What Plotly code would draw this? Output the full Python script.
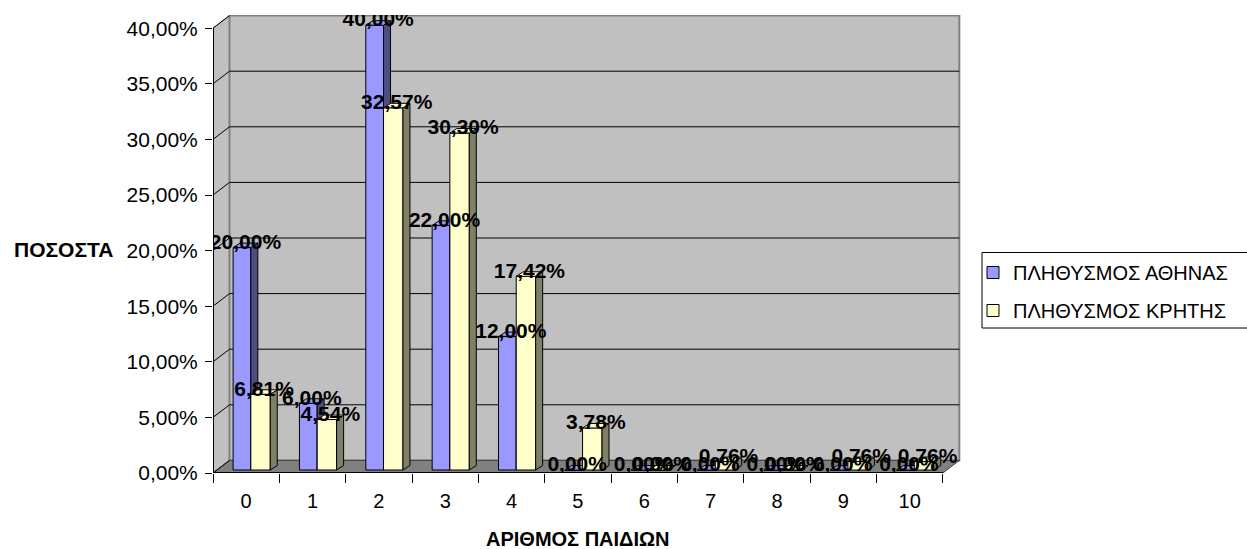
import plotly.graph_objects as go

# ---- data -------------------------------------------------------------
CATEGORIES = [0, 1, 2, 3, 4, 5, 6, 7, 8, 9, 10]
CAT_LABELS = ["0", "1", "2", "3", "4", "5", "6", "7", "8", "9", "10"]
ATHENS = [20.00, 6.00, 40.00, 22.00, 12.00, 0.00, 0.00, 0.00, 0.00, 0.00, 0.00]
CRETE = [6.81, 4.54, 32.57, 30.30, 17.42, 3.78, 0.00, 0.76, 0.00, 0.76, 0.76]
SERIES_NAMES = ["ΠΛΗΘΥΣΜΟΣ ΑΘΗΝΑΣ", "ΠΛΗΘΥΣΜΟΣ ΚΡΗΤΗΣ"]
Y_TICKS = [0, 5, 10, 15, 20, 25, 30, 35, 40]
Y_TICK_LABELS = ["0,00%", "5,00%", "10,00%", "15,00%", "20,00%",
                 "25,00%", "30,00%", "35,00%", "40,00%"]
X_TITLE = "ΑΡΙΘΜΟΣ ΠΑΙΔΙΩΝ"
Y_TITLE = "ΠΟΣΟΣΤΑ"

# ---- geometry -----------------------------------------------------------
W, H = 1247, 549
ML, MR, MT, MB = 213, 286, 15, 76
PLOT_W = W - ML - MR
PLOT_H = H - MT - MB
PX_CAT = 66.35      # pixels per category
PX_PCT = 11.12      # pixels per percent
X_RANGE = [-0.5, -0.5 + PLOT_W / PX_CAT]
Y_RANGE = [0, PLOT_H / PX_PCT]

WALL_DX = 16.5 / PX_CAT     # depth of the chart box
WALL_DY = 12.6 / PX_PCT
BAR_DX = 7.0 / PX_CAT       # depth of each column
BAR_DY = 4.5 / PX_PCT
BASE = 3.0 / PX_PCT         # columns stand a little back on the floor
LBL_DX = 3.5 / PX_CAT
LBL_DY = 4.0 / PX_PCT

FONT = "Liberation Sans, Arial, sans-serif"
COLORS = [("#9999FF", "#4D4D80"), ("#FFFFCC", "#808066")]
SLOTS = [(-0.197, 0.267), (0.070, 0.293)]   # (offset, width) per series


def px_x(px):
    return (px - ML) / PLOT_W


def px_y(py):
    return (H - MB - py) / PLOT_H


def fmt(v):
    return f"{v:.2f}".replace(".", ",") + "%"


fig = go.Figure()

label_traces = []
for i, (name, vals) in enumerate(zip(SERIES_NAMES, [ATHENS, CRETE])):
    front, side = COLORS[i]
    off, wid = SLOTS[i]
    xa = "x" if i == 0 else "x2"
    ya = "y" if i == 0 else "y2"

    fig.add_trace(go.Bar(
        x=CATEGORIES, y=vals, base=BASE, offset=off, width=wid,
        name=name, legendgroup=name,
        marker=dict(color=front, line=dict(color="black", width=1)),
        xaxis=xa, yaxis=ya, hoverinfo="skip",
    ))

    sx, sy, tx, ty = [], [], [], []
    for c, v in zip(CATEGORIES, vals):
        x0 = c + off
        x1 = x0 + wid
        top = BASE + v
        sx += [x1, x1 + BAR_DX, x1 + BAR_DX, x1, x1, None]
        sy += [BASE, BASE + BAR_DY, top + BAR_DY, top, BASE, None]
        tx += [x0, x0 + BAR_DX, x1 + BAR_DX, x1, x0, None]
        ty += [top, top + BAR_DY, top + BAR_DY, top, top, None]

    fig.add_trace(go.Scatter(
        x=sx, y=sy, mode="lines", fill="toself", fillcolor=side,
        line=dict(color="black", width=1), showlegend=False,
        legendgroup=name, xaxis=xa, yaxis=ya, hoverinfo="skip",
    ))
    fig.add_trace(go.Scatter(
        x=tx, y=ty, mode="lines", fill="toself", fillcolor=front,
        line=dict(color="black", width=1), showlegend=False,
        legendgroup=name, xaxis=xa, yaxis=ya, hoverinfo="skip",
    ))

    label_traces.append(go.Scatter(
        x=[c + off + wid / 2 + LBL_DX for c in CATEGORIES],
        y=[BASE + v + LBL_DY for v in vals],
        text=[fmt(v) for v in vals],
        mode="text", textposition="middle center",
        textfont=dict(family=FONT, size=21, color="black", weight="bold"),
        showlegend=False, legendgroup=name, xaxis="x2", yaxis="y2",
        hoverinfo="skip",
    ))

for t in label_traces:
    fig.add_trace(t)

# ---- chart box: walls, floor, grid -----------------------------------
WALL_GREY = "#C0C0C0"
EDGE_GREY = "#808080"
xl = X_RANGE[0]
xr = CATEGORIES[-1] + 0.5
y_top = Y_TICKS[-1]

shapes = [
    # left side wall
    dict(type="path", xref="x", yref="y", layer="below",
         path=f"M {xl},0 L {xl + WALL_DX},{WALL_DY} L {xl + WALL_DX},{y_top + WALL_DY} L {xl},{y_top} Z",
         fillcolor=WALL_GREY, line=dict(color=EDGE_GREY, width=1)),
    # back wall
    dict(type="rect", xref="x", yref="y", layer="below",
         x0=xl + WALL_DX, x1=xr + WALL_DX, y0=WALL_DY, y1=y_top + WALL_DY,
         fillcolor=WALL_GREY, line=dict(color=EDGE_GREY, width=2)),
    # floor
    dict(type="path", xref="x", yref="y", layer="below",
         path=f"M {xl},0 L {xl + WALL_DX},{WALL_DY} L {xr + WALL_DX},{WALL_DY} L {xr},0 Z",
         fillcolor=EDGE_GREY, line=dict(color="#404040", width=1)),
]
for v in Y_TICKS:
    shapes.append(dict(type="line", xref="x", yref="y", layer="below",
                       x0=xl, y0=v, x1=xl + WALL_DX, y1=v + WALL_DY,
                       line=dict(color="black", width=1)))
    if 0 < v < y_top:
        shapes.append(dict(type="line", xref="x", yref="y", layer="below",
                           x0=xl + WALL_DX, y0=v + WALL_DY, x1=xr + WALL_DX, y1=v + WALL_DY,
                           line=dict(color="black", width=1)))
# front axis lines
shapes.append(dict(type="line", xref="x", yref="y", layer="above",
                   x0=xl, y0=0, x1=xl, y1=y_top, line=dict(color="black", width=2)))
shapes.append(dict(type="line", xref="x", yref="y", layer="above",
                   x0=xl, y0=0, x1=xr, y1=0, line=dict(color="black", width=2)))
# legend frame
shapes.append(dict(type="rect", xref="paper", yref="paper", layer="below",
                   x0=px_x(982), x1=px_x(1262), y0=px_y(328), y1=px_y(252.5),
                   fillcolor="white", line=dict(color="black", width=1)))

fig.update_layout(
    width=W, height=H,
    margin=dict(l=ML, r=MR, t=MT, b=MB, autoexpand=False),
    paper_bgcolor="white", plot_bgcolor="white",
    barmode="overlay",
    showlegend=True,
    shapes=shapes,
    font=dict(family=FONT, color="black"),
    xaxis=dict(
        range=X_RANGE, showgrid=False, zeroline=False, showline=False,
        tickmode="array", tickvals=CATEGORIES, ticktext=CAT_LABELS,
        ticks="", tickfont=dict(family=FONT, size=20, color="black"),
        ticklabelstandoff=14,
        minor=dict(tickmode="array",
                   tickvals=[c - 0.5 for c in CATEGORIES] + [CATEGORIES[-1] + 0.5],
                   ticks="outside", ticklen=9, tickcolor="black", tickwidth=1,
                   showgrid=False),
    ),
    yaxis=dict(
        range=Y_RANGE, showgrid=False, zeroline=False, showline=False,
        tickmode="array", tickvals=Y_TICKS, ticktext=Y_TICK_LABELS,
        ticks="outside", ticklen=7, tickcolor="black", tickwidth=1,
        tickfont=dict(family=FONT, size=21, color="black"),
        ticklabelstandoff=3,
    ),
    xaxis2=dict(overlaying="x", matches="x", range=X_RANGE, visible=False),
    yaxis2=dict(overlaying="y", matches="y", range=Y_RANGE, visible=False),
    legend=dict(
        x=px_x(973), y=px_y(253), xanchor="left", yanchor="top",
        bgcolor="rgba(0,0,0,0)", borderwidth=0,
        font=dict(family=FONT, size=20, color="black"),
        traceorder="grouped", tracegroupgap=9,
    ),
    annotations=[
        dict(text=f"<b>{Y_TITLE}</b>", xref="paper", yref="paper",
             x=px_x(63), y=px_y(249), showarrow=False,
             font=dict(family=FONT, size=21, color="black"),
             xanchor="center", yanchor="middle"),
        dict(text=f"<b>{X_TITLE}</b>", xref="paper", yref="paper",
             x=px_x(578), y=px_y(539), showarrow=False,
             font=dict(family=FONT, size=20, color="black"),
             xanchor="center", yanchor="middle"),
    ],
)

fig.write_html("out.html")
